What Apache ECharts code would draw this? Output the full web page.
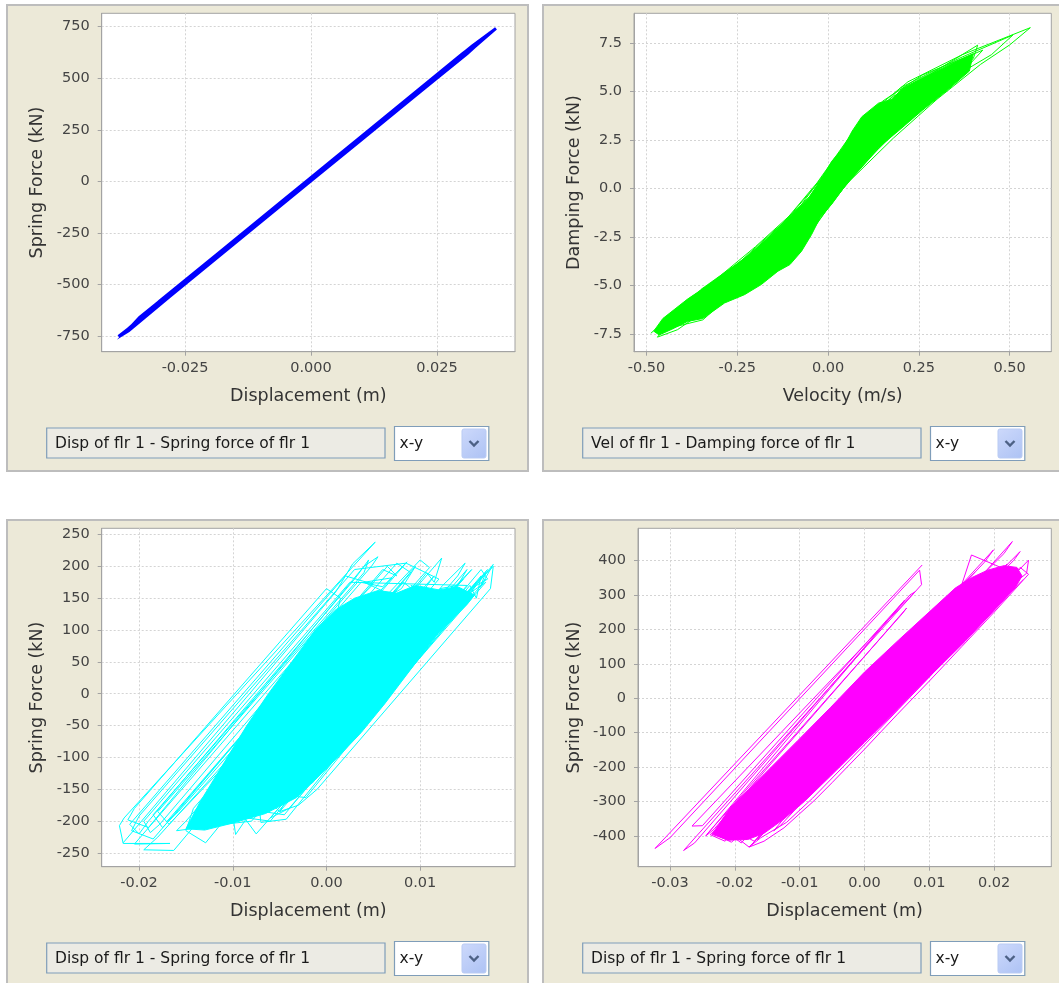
<!DOCTYPE html>
<html>
<head>
<meta charset="utf-8">
<title>Floor 1 response</title>
<script src="https://cdn.jsdelivr.net/npm/echarts@6/dist/echarts.min.js"></script>
<style>
  html, body { margin: 0; padding: 0; background: #ffffff; }
  #chart { width: 1059px; height: 983px; }
</style>
</head>
<body>
<div id="chart"></div>
<script>
// ---------- Floor 1: spring displacement / force (linear spring, blue) ----------
const disp1 = [-0.0382, -0.0300, -0.0200, -0.0100, 0.0000, 0.0100, 0.0200, 0.0300, 0.0367,
  0.0320, 0.0250, 0.0150, 0.0050, -0.0050, -0.0150, -0.0250, -0.0340, -0.0368,
  -0.0362, -0.0280, -0.0180, -0.0080, 0.0020, 0.0120, 0.0220, 0.0310, 0.0355,
  0.0300, 0.0180, 0.0060, -0.0060, -0.0180, -0.0300, -0.0375];
const force1 = [-752, -597, -397, -198, 2, 201, 401, 600, 742,
  657, 517, 317, 118, -82, -281, -481, -660, -733,
  -724, -558, -358, -158, 42, 241, 441, 620, 720,
  618, 378, 138, -101, -341, -580, -742];

// ---------- Floor 1: velocity / damping force (green) ----------
const velCore2 = [-0.480, -0.455, -0.387, -0.304, -0.230, -0.156, -0.101, -0.054, -0.018, 0.010,
  0.042, 0.066, 0.093, 0.139, 0.176, 0.204, 0.259, 0.315, 0.352, 0.400,
  0.389, 0.333, 0.259, 0.195, 0.139, 0.089, 0.047, 0.010, -0.022, -0.045,
  -0.073, -0.105, -0.138, -0.184, -0.230, -0.285, -0.345, -0.387, -0.430, -0.465];
const dampCore2 = [-7.35, -6.70, -5.70, -4.65, -3.60, -2.40, -1.38, -0.50, 0.50, 1.40,
  2.10, 2.95, 3.70, 4.40, 4.60, 5.15, 5.70, 6.20, 6.55, 6.95,
  6.05, 5.14, 4.02, 2.99, 2.12, 1.09, 0.14, -0.81, -1.50, -2.36,
  -3.23, -3.92, -4.26, -4.95, -5.47, -5.90, -6.70, -6.85, -7.25, -7.55];
const vel2 = [-0.488, -0.40, -0.30, -0.20, -0.10, 0.00, 0.10, 0.18, 0.30, 0.412,
  0.40, 0.30, 0.20, 0.10, 0.00, -0.10, -0.20, -0.30, -0.415,
  -0.470, -0.38, -0.25, -0.12, -0.03, 0.07, 0.15, 0.26, 0.426,
  0.35, 0.24, 0.12, 0.03, -0.06, -0.16, -0.28, -0.345,
  -0.46, -0.36, -0.22, -0.08, 0.05, 0.20, 0.36, 0.509,
  0.45, 0.36, 0.27, 0.15, 0.05, -0.04, -0.13, -0.23, -0.33, -0.44,
  -0.35, -0.20, -0.05, 0.09, 0.22, 0.37, 0.557,
  0.50, 0.42, 0.30, 0.18, 0.06, -0.03, -0.11, -0.24, -0.36, -0.45];
const damp2 = [-7.46, -6.00, -4.55, -3.00, -1.30, 0.90, 3.60, 4.75, 6.10, 7.39,
  6.70, 5.20, 3.30, 1.30, -0.70, -3.70, -4.80, -5.80, -7.28,
  -7.66, -5.65, -3.90, -1.70, 0.30, 2.95, 4.50, 5.85, 7.13,
  5.60, 3.90, 1.70, -0.20, -2.60, -4.50, -5.70, -6.77,
  -7.30, -5.40, -3.50, -1.00, 2.30, 5.20, 6.70, 7.91,
  6.90, 5.90, 4.40, 2.30, 0.20, -2.00, -4.10, -5.30, -6.30, -7.10,
  -5.20, -3.20, -0.40, 3.50, 5.50, 6.90, 8.29,
  7.40, 6.40, 4.60, 2.60, 0.40, -1.60, -3.80, -5.40, -6.40, -7.35];

// ---------- Floor 1: spring displacement / force (cyan) ----------
const dispCore3 = [-0.0150, -0.0135, -0.0110, -0.0085, -0.0062, -0.0037, -0.0012, 0.0010, 0.0030, 0.0055,
  0.0075, 0.0095, 0.0120, 0.0140, 0.0158, 0.0150, 0.0119, 0.0097, 0.0062, 0.0037,
  0.0015, -0.0010, -0.0032, -0.0065, -0.0100, -0.0130];
const forceCore3 = [-212, -170, -110, -50, 0, 50, 100, 132, 150, 162,
  158, 170, 163, 168, 155, 140, 94, 52, -16, -61,
  -95, -132, -163, -188, -203, -214];
const disp3 = [-0.0217, 0.0010, 0.0028, 0.0052, -0.0216, -0.0221, -0.0217, -0.0167, -0.0205, 0.0037,
  0.0060, 0.0086, -0.0142, -0.0150, -0.0129, 0.0107, 0.0115, 0.0123, -0.0102, -0.0097,
  -0.0085, 0.0124, 0.0148, 0.0140, -0.0072, -0.0070, -0.0043, 0.0178, 0.0164, 0.0170,
  -0.0036, -0.0050, -0.0060, 0.0146, 0.0135, 0.0155, -0.0080, -0.0110, -0.0095, 0.0105,
  0.0090, 0.0100, -0.0134, -0.0160, -0.0150, 0.0062, 0.0040, 0.0070, -0.0180, -0.0195,
  -0.0163, 0.0063, 0.0080, 0.0095, -0.0129, -0.0120, -0.0115, 0.0082, 0.0100, 0.0115,
  -0.0097, -0.0080, -0.0070, 0.0121, 0.0140, 0.0150, -0.0076, -0.0060, -0.0030, 0.0153,
  0.0160, 0.0165, -0.0021, -0.0040, -0.0022, 0.0146, 0.0150, 0.0160, -0.0075, -0.0090,
  -0.0100, 0.0120, 0.0085, 0.0030, -0.0200, -0.0208, -0.0185, 0.0035, 0.0050, 0.0020,
  -0.0210, -0.0200, -0.0190, 0.0030, 0.0045, 0.0040, -0.0185, -0.0175, -0.0165, 0.0060,
  0.0075, 0.0065, -0.0170, -0.0158, 0.0075, 0.0090, -0.0125, -0.0110, -0.0060, 0.0165,
  0.0172, 0.0160, -0.0050, -0.0030, -0.0010, 0.0175, 0.0178, 0.0168, -0.0045, -0.0060,
  -0.0040, 0.0170, 0.0155, -0.0060, 0.0150, 0.0025, -0.0195, -0.0188, -0.0178, 0.0010,
  0.0015, 0.0000, -0.0205, -0.0212, -0.0190, 0.0040, 0.0055, 0.0048, -0.0180, -0.0168,
  0.0100, 0.0110, 0.0105, -0.0110, -0.0090, -0.0045, 0.0172, 0.0160, -0.0030, -0.0015,
  0.0165, 0.0170];
const force3 = [-234, 160, 204, 238, -195, -207, -235, -235, -236, 175,
  168, 207, -180, -215, -234, 190, 175, 213, -170, -221,
  -195, 170, 205, 185, -175, -202, -197, 203, 167, 190,
  -150, -185, -170, 180, 165, 195, -200, -205, -190, 150,
  170, 165, -210, -215, -200, 160, 175, 182, -225, -245,
  -246, 150, 165, 200, -180, -155, -170, 175, 155, 185,
  -165, -140, -160, 165, 170, 195, -190, -175, -160, 170,
  150, 185, -140, -160, -163, 140, 160, 175, -220, -190,
  -200, 180, 205, 195, -192, -215, -228, 150, 172, 185,
  -205, -220, -200, 180, 210, 190, -190, -210, -195, 195,
  185, 200, -200, -185, 205, 190, -175, -190, -200, 195,
  180, 170, -185, -175, -150, 165, 200, 185, -170, -195,
  -180, 175, 160, -175, 170, 175, -200, -218, -205, 120,
  150, 165, -180, -198, -210, 200, 215, 200, -185, -205,
  210, 198, 190, -170, -180, -190, 195, 175, -150, -140,
  170, 180];

// ---------- Floor 1: spring displacement / force (magenta) ----------
const dispCore4 = [-0.0235, -0.0207, -0.0155, -0.0103, -0.0052, 0.0000, 0.0052, 0.0103, 0.0140, 0.0165,
  0.0190, 0.0215, 0.0235, 0.0243, 0.0232, 0.0200, 0.0155, 0.0103, 0.0052, 0.0000,
  -0.0052, -0.0093, -0.0124, -0.0155, -0.0180, -0.0210];
const forceCore4 = [-395, -318, -221, -123, -26, 76, 168, 256, 320, 350,
  372, 385, 380, 355, 320, 255, 165, 68, -30, -128,
  -225, -300, -350, -392, -410, -412];
// null entries separate the outer strands from the main loops
const disp4 = [0.0089, -0.0323, -0.0300, 0.0085, 0.0088, -0.0279, -0.0262, 0.0070, 0.0078, -0.0266,
  -0.0250, 0.0062, -0.0245, -0.0232, 0.0065, 0.0058, -0.0243, null,
  0.0171, -0.0238, -0.0215, 0.0199, 0.0185, -0.0210, -0.0190, 0.0228, 0.0215, -0.0225,
  -0.0205, 0.0240, 0.0230, -0.0200, -0.0178, 0.0253, 0.0250, 0.0235, -0.0165, -0.0150,
  0.0220, 0.0200, -0.0185, -0.0170, 0.0210, 0.0165, 0.0150, -0.0220, -0.0200, 0.0190,
  0.0175, -0.0140, -0.0130, 0.0240, 0.0253, 0.0200, 0.0150, 0.0100, 0.0050, 0.0000,
  -0.0050, -0.0078, -0.0100, -0.0124, -0.0155, -0.0178, -0.0160, -0.0120, -0.0080, 0.0000,
  0.0100, 0.0200, 0.0245];
const force4 = [387, -436, -405, 372, 330, -442, -420, 300, 309, -371,
  -370, 285, -400, -380, 262, 245, -395, null,
  367, -396, -415, 431, 395, -392, -420, 455, 420, -400,
  -418, 426, 400, -400, -432, 401, 363, 340, -410, -380,
  390, 350, -400, -415, 380, 416, 330, -395, -405, 370,
  340, -385, -370, 380, 360, 250, 150, 50, -48, -148,
  -245, -298, -335, -376, -415, -432, -405, -360, -290, -135,
  62, 262, 345];

// ---------- axis ticks and texts ----------
const xTicks1 = [-0.025, 0, 0.025];
const yTicks1 = [-750, -500, -250, 0, 250, 500, 750];
const xTicks2 = [-0.5, -0.25, 0, 0.25, 0.5];
const yTicks2 = [-7.5, -5, -2.5, 0, 2.5, 5, 7.5];
const xTicks3 = [-0.02, -0.01, 0, 0.01];
const yTicks3 = [-250, -200, -150, -100, -50, 0, 50, 100, 150, 200, 250];
const xTicks4 = [-0.03, -0.02, -0.01, 0, 0.01, 0.02];
const yTicks4 = [-400, -300, -200, -100, 0, 100, 200, 300, 400];

const xTitles = ['Displacement (m)', 'Velocity (m/s)', 'Displacement (m)', 'Displacement (m)'];
const yTitles = ['Spring Force (kN)', 'Damping Force (kN)', 'Spring Force (kN)', 'Spring Force (kN)'];
const pairNames = ['Disp of flr 1 - Spring force of flr 1', 'Vel of flr 1 - Damping force of flr 1',
  'Disp of flr 1 - Spring force of flr 1', 'Disp of flr 1 - Spring force of flr 1'];
const plotMode = 'x-y';

// ---------- layout of the four panels ----------
const FONT = '"DejaVu Sans", Verdana, sans-serif';
const panels = [
  { ox: 7, oy: 5, grid: [101.7, 13.3, 413.3, 338.4], xr: [-0.04153, 0.04048], yr: [-826, 815],
    xt: xTicks1, yt: yTicks1, xd: 3, yd: 0, yGap: 55, color: '#0000ff', width: 3,
    line: [disp1, force1], core: null },
  { ox: 543, oy: 5, grid: [634, 13.3, 417.3, 338.4], xr: [-0.5344, 0.6147], yr: [-8.41, 9.03],
    xt: xTicks2, yt: yTicks2, xd: 2, yd: 1, yGap: 51, color: '#00ff00', width: 1,
    line: [vel2, damp2], core: [velCore2, dampCore2] },
  { ox: 7, oy: 520, grid: [101.7, 528.3, 413.3, 338.4], xr: [-0.02399, 0.02012], yr: [-271.5, 259.7],
    xt: xTicks3, yt: yTicks3, xd: 2, yd: 0, yGap: 55, color: '#00ffff', width: 1,
    line: [disp3, force3], core: [dispCore3, forceCore3] },
  { ox: 543, oy: 520, grid: [638, 528.3, 413.3, 338.4], xr: [-0.03493, 0.02881], yr: [-489, 493.5],
    xt: xTicks4, yt: yTicks4, xd: 2, yd: 0, yGap: 55, color: '#ff00ff', width: 1,
    line: [disp4, force4], core: [dispCore4, forceCore4] }
];

const AXIS_GREY = '#a3a3a3';
const grids = [], xAxes = [], yAxes = [], series = [], graphics = [];

panels.forEach((p, i) => {
  // beige frame behind each chart
  graphics.push({ type: 'rect', z: -10, silent: true,
    shape: { x: p.ox, y: p.oy, width: 521, height: 466 },
    style: { fill: '#ece9d8', stroke: '#bdbdbd', lineWidth: 2 } });

  // series selector text field
  graphics.push({ type: 'rect', z: 10, silent: true,
    shape: { x: p.ox + 39.7, y: p.oy + 423, width: 338.3, height: 30 },
    style: { fill: '#ecebe4', stroke: '#7f9db9', lineWidth: 1.2 } });
  graphics.push({ type: 'text', z: 11, silent: true, x: p.ox + 48, y: p.oy + 438.5,
    style: { text: pairNames[i], font: '15.5px ' + FONT, fill: '#1a1a1a', textVerticalAlign: 'middle' } });

  // plot mode combo box
  const cx = p.ox + 387.5;
  graphics.push({ type: 'rect', z: 10, silent: true,
    shape: { x: cx, y: p.oy + 421.5, width: 94.3, height: 34 },
    style: { fill: '#ffffff', stroke: '#7f9db9', lineWidth: 1.2 } });
  graphics.push({ type: 'text', z: 11, silent: true, x: cx + 5, y: p.oy + 439,
    style: { text: plotMode, font: '15.5px ' + FONT, fill: '#1a1a1a', textVerticalAlign: 'middle' } });
  graphics.push({ type: 'rect', z: 11, silent: true,
    shape: { x: cx + 67.5, y: p.oy + 424, width: 24, height: 29, r: 2 },
    style: { stroke: '#b9cbf3', lineWidth: 1,
      fill: new echarts.graphic.LinearGradient(0, 0, 1, 1, [
        { offset: 0, color: '#cdd9fb' }, { offset: 1, color: '#adc2f4' }]) } });
  const ax = cx + 79.5, ay = p.oy + 438.5;
  graphics.push({ type: 'polyline', z: 12, silent: true,
    shape: { points: [[ax - 4.5, ay - 2.5], [ax, ay + 2], [ax + 4.5, ay - 2.5]] },
    style: { stroke: '#4d6185', lineWidth: 2.4, fill: null } });

  grids.push({ left: p.grid[0], top: p.grid[1], width: p.grid[2], height: p.grid[3],
    show: true, backgroundColor: '#ffffff', borderColor: AXIS_GREY, borderWidth: 1, z: 0 });

  const common = {
    gridIndex: i, type: 'value',
    axisLine: { show: true, onZero: false, lineStyle: { color: AXIS_GREY, width: 1 } },
    splitLine: { show: true, lineStyle: { color: '#d4d4d4', type: [2, 2], width: 1 } },
    nameLocation: 'middle',
    nameTextStyle: { fontFamily: FONT, fontSize: 17.5, color: '#333333' }
  };
  xAxes.push(Object.assign({}, common, {
    min: p.xr[0], max: p.xr[1], name: xTitles[i], nameGap: 36,
    axisTick: { show: true, length: 4, customValues: p.xt, lineStyle: { color: AXIS_GREY } },
    axisLabel: { customValues: p.xt, margin: 9, fontFamily: FONT, fontSize: 14.5, color: '#444444',
      formatter: v => Number(v).toFixed(p.xd) }
  }));
  yAxes.push(Object.assign({}, common, {
    min: p.yr[0], max: p.yr[1], name: yTitles[i], nameGap: p.yGap,
    axisTick: { show: true, length: 4, customValues: p.yt, lineStyle: { color: AXIS_GREY } },
    axisLabel: { customValues: p.yt, margin: 12, fontFamily: FONT, fontSize: 14.5, color: '#444444',
      formatter: v => Number(v).toFixed(p.yd) }
  }));

  if (p.core) {
    const cxs = p.core[0], cys = p.core[1];
    series.push({
      type: 'custom', xAxisIndex: i, yAxisIndex: i, silent: true, clip: true, z: 3,
      data: cxs.map((x, k) => [x, cys[k]]),
      renderItem: (params, api) => {
        if (params.dataIndex !== 0) return null;
        const pts = cxs.map((x, k) => api.coord([x, cys[k]]));
        return { type: 'polygon', shape: { points: pts }, style: { fill: p.color, stroke: p.color, lineWidth: 1 } };
      }
    });
  }
  const lx = p.line[0], ly = p.line[1];
  series.push({
    type: 'line', xAxisIndex: i, yAxisIndex: i, silent: true, clip: true, z: 4,
    showSymbol: false, symbol: 'none', connectNulls: false,
    lineStyle: { color: p.color, width: p.width, join: 'miter' },
    data: lx.map((x, k) => [x, ly[k]])
  });
});

const chart = echarts.init(document.getElementById('chart'), null, { renderer: 'canvas' });
chart.setOption({
  animation: false,
  backgroundColor: '#ffffff',
  grid: grids,
  xAxis: xAxes,
  yAxis: yAxes,
  series: series,
  graphic: { elements: graphics }
});
</script>
</body>
</html>
